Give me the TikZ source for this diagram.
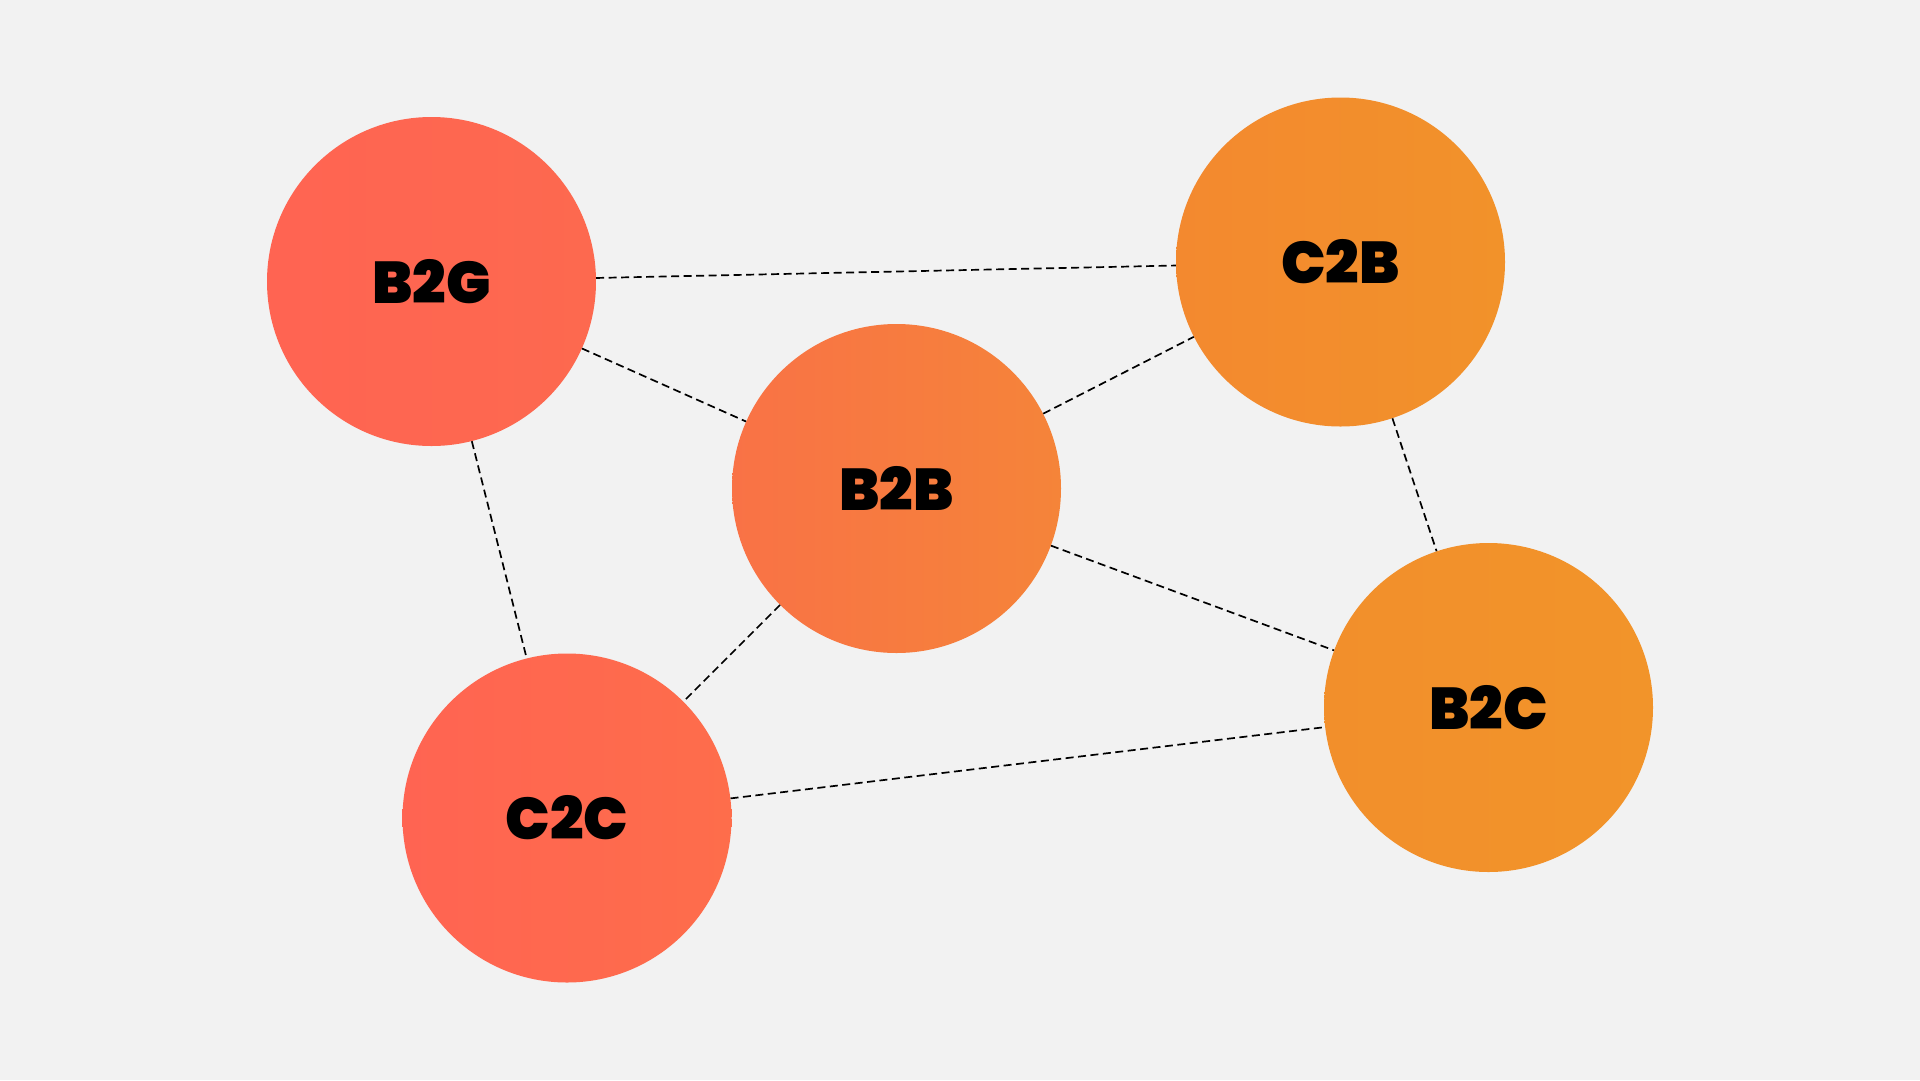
\documentclass[tikz,border=0pt]{standalone}
\usepackage{fontspec}
\setmainfont{Poppins}[BoldFont = Poppins Black]

\definecolor{paper}{HTML}{F2F2F2}
\definecolor{redA}{HTML}{FF6452}
\definecolor{redB}{HTML}{FD694F}
\definecolor{redC}{HTML}{FE6D4B}
\definecolor{midA}{HTML}{F97246}
\definecolor{midB}{HTML}{F58439}
\definecolor{orgA}{HTML}{F3892F}
\definecolor{orgB}{HTML}{F2922A}
\definecolor{orgC}{HTML}{F28F2B}
\definecolor{orgD}{HTML}{F2942A}

\begin{document}
\begin{tikzpicture}[x = 1pt, y = -1pt,
    market/.style = {circle, minimum size = 329pt, inner sep = 0pt,
        font = \fontsize{59}{62}\selectfont\bfseries},
    link/.style = {line width = 1.7pt, dash pattern = on 8pt off 4.5pt, color = black}]

    \fill[paper] (0, 0) rectangle (1920, 1080);

    \node[market, left color = redA, right color = redB] (b2g) at (431.5, 281.5) {B2G};
    \node[market, left color = orgA, right color = orgB] (c2b) at (1340.5, 262) {C2B};
    \node[market, left color = midA, right color = midB] (b2b) at (896.5, 488.5) {B2B};
    \node[market, left color = orgC, right color = orgD] (b2c) at (1488.5, 707.5) {B2C};
    \node[market, left color = redA, right color = redC] (c2c) at (567, 818) {C2C};

    \draw[link] (b2g) -- (c2b);
    \draw[link] (b2g) -- (b2b);
    \draw[link] (b2g) -- (c2c);
    \draw[link] (b2b) -- (c2b);
    \draw[link] (b2b) -- (c2c);
    \draw[link] (b2b) -- (b2c);
    \draw[link] (c2b) -- (b2c);
    \draw[link] (c2c) -- (b2c);
\end{tikzpicture}
\end{document}
